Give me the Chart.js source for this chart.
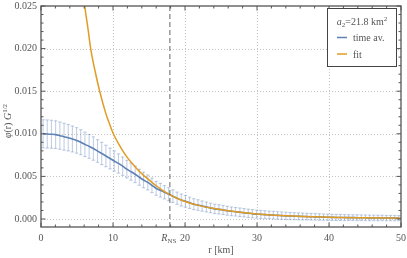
<!DOCTYPE html>
<html>
<head>
<meta charset="utf-8">
<title>phi(r) G^1/2 - promedio temporal y ajuste</title>
<script src="https://cdn.jsdelivr.net/npm/chart.js@4.4.1/dist/chart.umd.min.js"></script>
<style>
  html, body { margin: 0; padding: 0; background: #fff; }
  #wrap { width: 407px; height: 258px; }
</style>
</head>
<body>
<div id="wrap"><canvas id="grafico" width="407" height="258"></canvas></div>
<script>
// Datos
const rTime = [0.29, 0.87, 1.45, 2.03, 2.62, 3.20, 3.78, 4.36, 4.94, 5.52,
  6.10, 6.69, 7.27, 7.85, 8.43, 9.01, 9.59, 10.17, 10.76, 11.34,
  11.92, 12.50, 13.08, 13.66, 14.24, 14.83, 15.41, 15.99, 16.57, 17.15,
  17.73, 18.31, 18.90, 19.48, 20.06, 20.64, 21.22, 21.80, 22.38, 22.97,
  23.55, 24.13, 24.71, 25.29, 25.87, 26.45, 27.03, 27.62, 28.20, 28.78,
  29.36, 29.94, 30.52, 31.10, 31.69, 32.27, 32.85, 33.43, 34.01, 34.59,
  35.17, 35.76, 36.34, 36.92, 37.50, 38.08, 38.66, 39.24, 39.83, 40.41,
  40.99, 41.57, 42.15, 42.73, 43.31, 43.90, 44.48, 45.06, 45.64, 46.22,
  46.80, 47.38, 47.97, 48.55, 49.13, 49.71];
const phiTime = [0.0100, 0.00998, 0.00995, 0.0099, 0.00978, 0.00966, 0.00954, 0.00939, 0.00922, 0.00901,
  0.00876, 0.00852, 0.00827, 0.00798, 0.00769, 0.0074, 0.0071, 0.00681, 0.00652, 0.0062,
  0.00585, 0.00555, 0.00525, 0.0049, 0.00458, 0.00429, 0.00395, 0.0036, 0.00337, 0.00314,
  0.00291, 0.00268, 0.00244, 0.00223, 0.00208, 0.0019, 0.00174, 0.00164, 0.00152, 0.00141,
  0.0013, 0.00119, 0.00113, 0.00106, 0.00097, 0.0009, 0.00085, 0.00079, 0.00073, 0.00067,
  0.00062, 0.00057, 0.00054, 0.00051, 0.00048, 0.00045, 0.00042, 0.0004, 0.00037, 0.00035,
  0.00033, 0.00031, 0.00029, 0.00028, 0.00026, 0.00025, 0.00023, 0.00022, 0.0002, 0.00019,
  0.00018, 0.00018, 0.00017, 0.00016, 0.00016, 0.00015, 0.00015, 0.00014, 0.00013, 0.00013,
  0.00012, 0.00012, 0.00011, 0.00011, 0.0001, 0.0001];
const phiErr = [0.00165, 0.00165, 0.00164, 0.00162, 0.0016, 0.00158, 0.00155, 0.00152, 0.0015, 0.00147,
  0.00143, 0.0014, 0.00137, 0.00133, 0.0013, 0.00126, 0.00122, 0.00118, 0.00113, 0.00108,
  0.00104, 0.001, 0.00097, 0.00094, 0.00091, 0.00088, 0.00085, 0.00082, 0.0008, 0.00078,
  0.00076, 0.00074, 0.00072, 0.0007, 0.00068, 0.00066, 0.00064, 0.00062, 0.0006, 0.00058,
  0.00056, 0.00055, 0.00054, 0.00053, 0.00052, 0.00051, 0.0005, 0.0005, 0.00049, 0.00049,
  0.00048, 0.00047, 0.00047, 0.00046, 0.00045, 0.00045, 0.00044, 0.00043, 0.00043, 0.00042,
  0.00041, 0.00041, 0.0004, 0.00039, 0.00039, 0.00038, 0.00038, 0.00037, 0.00037, 0.00036,
  0.00036, 0.00035, 0.00035, 0.00034, 0.00034, 0.00034, 0.00033, 0.00033, 0.00033, 0.00032,
  0.00032, 0.00032, 0.00031, 0.00031, 0.00031, 0.0003];

const rFit = [5.8, 6.07, 6.5, 6.9, 7.5, 8.15, 9, 9.5, 10, 11, 12, 13, 14, 14.4, 15, 16, 17, 18, 19, 20,
  22, 24, 26, 28, 30, 32, 35, 40, 45, 50];
const phiFit = [0.0270, 0.0250, 0.0225, 0.0200, 0.0174, 0.0150, 0.0124, 0.0112, 0.0101,
  0.0085, 0.0072, 0.0062, 0.0053, 0.0050, 0.0046, 0.0039, 0.0033, 0.0028, 0.0024, 0.00205,
  0.00157, 0.00122, 0.00096, 0.00076, 0.00059, 0.00047, 0.00035, 0.0002, 0.00014, 0.0001];

const xTicks = [0, 10, 20, 30, 40, 50];
const yTicks = [0, 0.005, 0.010, 0.015, 0.020, 0.025];
const rNS = 17.9;

const AZUL = '#5e81b5';
const NARANJA = '#e19c24';
const ERROR = 'rgba(94, 129, 181, 0.38)';
const MARCO = '#555';
const TEXTO = '#555';
const SERIF = '"Liberation Serif", "DejaVu Serif", serif';

function linea(ctx, x1, y1, x2, y2) {
  ctx.beginPath();
  ctx.moveTo(x1, y1);
  ctx.lineTo(x2, y2);
  ctx.stroke();
}

function fuente(p) {
  return (p.italic ? 'italic ' : '') + (p.size || 10) + 'px ' + SERIF;
}

// Texto con subíndices / superíndices
function textoCompuesto(ctx, piezas, x, y, centrado) {
  let ancho = 0;
  piezas.forEach(p => {
    ctx.font = fuente(p);
    p.w = ctx.measureText(p.t).width;
    ancho += p.w;
  });
  let cx = centrado ? x - ancho / 2 : x;
  piezas.forEach(p => {
    ctx.font = fuente(p);
    ctx.fillText(p.t, cx, y + (p.dy || 0));
    cx += p.w;
  });
}

const decoracion = {
  id: 'decoracion',
  beforeDatasetsDraw(chart) {
    const { ctx, chartArea: a, scales: { x, y } } = chart;
    ctx.save();

    // Rejilla punteada
    ctx.strokeStyle = '#c4c4c4';
    ctx.lineWidth = 1;
    ctx.setLineDash([1, 2]);
    xTicks.slice(1, -1).forEach(v => {
      const px = Math.round(x.getPixelForValue(v)) + 0.5;
      linea(ctx, px, a.top, px, a.bottom);
    });
    yTicks.slice(0, -1).forEach(v => {
      const py = Math.round(y.getPixelForValue(v)) + 0.5;
      linea(ctx, a.left, py, a.right, py);
    });

    // Barras de error
    ctx.setLineDash([]);
    ctx.strokeStyle = ERROR;
    ctx.lineWidth = 1.1;
    for (let i = 0; i < rTime.length; i++) {
      const px = x.getPixelForValue(rTime[i]);
      const top = y.getPixelForValue(phiTime[i] + phiErr[i]);
      const bot = y.getPixelForValue(phiTime[i] - phiErr[i]);
      linea(ctx, px, top, px, bot);
      linea(ctx, px - 1.7, top, px + 1.7, top);
      linea(ctx, px - 1.7, bot, px + 1.7, bot);
    }
    ctx.restore();
  },
  afterDatasetsDraw(chart) {
    const { ctx, chartArea: a, scales: { x, y } } = chart;
    ctx.save();

    // Línea vertical R_NS
    ctx.strokeStyle = '#666';
    ctx.lineWidth = 1;
    ctx.setLineDash([5, 3]);
    const pNS = x.getPixelForValue(rNS);
    linea(ctx, pNS, a.top, pNS, a.bottom);
    ctx.setLineDash([]);

    // Marco y marcas
    ctx.strokeStyle = MARCO;
    ctx.lineWidth = 1.3;
    ctx.strokeRect(a.left, a.top, a.right - a.left, a.bottom - a.top);
    ctx.lineWidth = 1;
    for (let v = 0; v <= 50; v += 2) {
      const px = x.getPixelForValue(v);
      const largo = v % 10 === 0 ? 4.5 : 2.5;
      linea(ctx, px, a.bottom, px, a.bottom - largo);
      linea(ctx, px, a.top, px, a.top + largo);
    }
    for (let k = 0; k <= 25; k++) {
      const py = y.getPixelForValue(k * 0.001);
      const largo = k % 5 === 0 ? 4.5 : 2.5;
      linea(ctx, a.left, py, a.left + largo, py);
      linea(ctx, a.right, py, a.right - largo, py);
    }

    ctx.fillStyle = TEXTO;
    ctx.textBaseline = 'alphabetic';
    ctx.textAlign = 'left';

    // Etiqueta R_NS bajo el eje
    textoCompuesto(ctx, [{ t: 'R', italic: true }, { t: 'NS', size: 7, dy: 2 }], pNS - 1, 240.5, true);

    // Título eje x
    textoCompuesto(ctx, [{ t: 'r [km]' }], (a.left + a.right) / 2, 252.5, true);

    // Título eje y (rotado)
    ctx.save();
    ctx.translate(7.5, 121);
    ctx.rotate(-Math.PI / 2);
    textoCompuesto(ctx, [
      { t: 'φ', italic: true }, { t: '(r) ' },
      { t: 'G', italic: true }, { t: '1/2', size: 7, dy: -4 }
    ], 0, 3.5, true);
    ctx.restore();

    // Leyenda
    ctx.fillStyle = '#fff';
    ctx.fillRect(327.5, 8.5, 69, 58);
    ctx.strokeStyle = '#444';
    ctx.lineWidth = 1;
    ctx.strokeRect(327.5, 8.5, 69, 58);
    ctx.fillStyle = TEXTO;
    textoCompuesto(ctx, [
      { t: 'a', italic: true }, { t: '2', size: 7, dy: 2 },
      { t: '=21.8 km' }, { t: '2', size: 7, dy: -4 }
    ], 362, 25, true);
    ctx.lineWidth = 1.5;
    ctx.strokeStyle = AZUL;
    linea(ctx, 337, 37.5, 347, 37.5);
    ctx.strokeStyle = NARANJA;
    linea(ctx, 337, 54, 347, 54);
    textoCompuesto(ctx, [{ t: 'time av.' }], 353, 41, false);
    textoCompuesto(ctx, [{ t: 'fit' }], 353, 57.5, false);

    ctx.restore();
  }
};

const ctx = document.getElementById('grafico');
new Chart(ctx, {
  type: 'line',
  data: {
    datasets: [{
      label: 'fit',
      data: rFit.map((r, i) => ({ x: r, y: phiFit[i] })),
      borderColor: NARANJA,
      borderWidth: 1.5,
      pointRadius: 0,
      cubicInterpolationMode: 'monotone',
      order: 1
    }, {
      label: 'time av.',
      data: rTime.map((r, i) => ({ x: r, y: phiTime[i] })),
      borderColor: AZUL,
      borderWidth: 1.6,
      pointRadius: 0,
      cubicInterpolationMode: 'monotone',
      order: 2
    }]
  },
  options: {
    responsive: false,
    animation: false,
    events: [],
    layout: { padding: { top: 6, right: 6, left: 0, bottom: 0 } },
    plugins: { legend: { display: false }, tooltip: { enabled: false } },
    scales: {
      x: {
        type: 'linear',
        min: 0,
        max: 50,
        grid: { display: false, drawTicks: false },
        border: { display: false },
        afterBuildTicks: s => { s.ticks = xTicks.map(v => ({ value: v })); },
        afterFit: s => { s.height = 31; s.paddingLeft = 0; s.paddingRight = 0; },
        ticks: {
          color: TEXTO,
          padding: 5,
          maxRotation: 0,
          font: { family: SERIF, size: 10 },
          callback: v => String(v)
        }
      },
      y: {
        min: -0.00094,
        max: 0.025,
        grid: { display: false, drawTicks: false },
        border: { display: false },
        afterBuildTicks: s => { s.ticks = yTicks.map(v => ({ value: v })); },
        afterFit: s => { s.width = 41; s.paddingTop = 0; s.paddingBottom = 0; },
        ticks: {
          color: TEXTO,
          padding: 4,
          font: { family: SERIF, size: 10 },
          callback: v => v.toFixed(3)
        }
      }
    }
  },
  plugins: [decoracion]
});
</script>
</body>
</html>
